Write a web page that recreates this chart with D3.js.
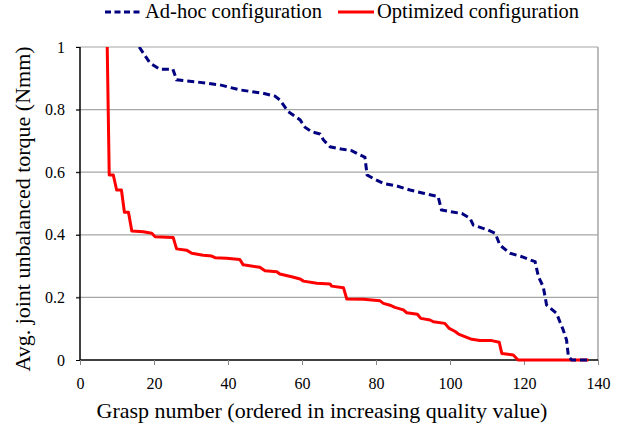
<!DOCTYPE html>
<html>
<head>
<meta charset="utf-8">
<script src="https://cdn.jsdelivr.net/npm/d3@7"></script>
<style>
body{margin:0;background:#fff;}
text{font-family:"Liberation Serif","Times New Roman",serif;fill:#000;}
</style>
</head>
<body>
<div id="chart"></div>
<script>
// grasp number / torque pairs
let adhocX=[16,18.9,21.6,25.1,26.1,32.4,37.8,43.2,49.5,52.7,54,56.3,59.5,60.8,62.6,64.9,65.8,67.6,71.1,73.4,75.7,77,77.6,79.3,82,85.6,89.2,92.8,96.8,97.7,100,103.2,105.4,106.3,109.9,112.2,113.5,116.2,119.4,123,123.9,125.2,126.1,128.8,129.7,130.6,131.5,132,132.9,137.4];
let adhocY=[1.0,0.949,0.929,0.929,0.895,0.887,0.879,0.863,0.852,0.843,0.831,0.793,0.767,0.744,0.729,0.722,0.703,0.681,0.673,0.669,0.655,0.648,0.591,0.58,0.564,0.556,0.543,0.533,0.522,0.479,0.474,0.468,0.453,0.431,0.417,0.405,0.367,0.341,0.33,0.314,0.266,0.234,0.176,0.149,0.122,0.096,0.064,0.011,0,0];
let optX=[7,7.9,9,9.9,11.2,12,13.1,14,17.1,19.4,20.3,25.2,26.1,28.8,30.2,33.3,35.6,36.5,39.6,43.2,44.1,48.6,50,53.2,54,57.2,59.5,60.4,64,67.6,68,71.2,72.1,76.6,81.1,82,83.8,85.1,87.4,88.3,91.2,92.1,94.6,95.5,98.6,99.8,101.4,102.3,104,105.9,108.1,111.3,113.3,114,117.1,118.4,137.4];
let optY=[1.27,0.591,0.591,0.543,0.543,0.472,0.472,0.412,0.41,0.405,0.394,0.391,0.355,0.351,0.341,0.335,0.332,0.327,0.325,0.321,0.304,0.296,0.285,0.282,0.275,0.266,0.259,0.252,0.245,0.243,0.236,0.231,0.195,0.194,0.189,0.181,0.175,0.168,0.16,0.151,0.146,0.133,0.128,0.122,0.117,0.101,0.091,0.083,0.075,0.066,0.062,0.062,0.057,0.021,0.016,0,0];
let xTicks=[0,20,40,60,80,100,120,140];
let yTicks=[0,0.2,0.4,0.6,0.8,1];
let seriesNames=["Ad-hoc configuration","Optimized configuration"];

let width=629, height=430;
let pLeft=80, pRight=598, pTop=47, pBottom=360;

let svg=d3.select("#chart").append("svg")
  .attr("width",width).attr("height",height);

let x=d3.scaleLinear().domain([0,140]).range([pLeft,pRight]);
let y=d3.scaleLinear().domain([0,1]).range([pBottom,pTop]);

// gridlines
svg.append("g").selectAll("line").data(yTicks.slice(1)).enter().append("line")
  .attr("x1",pLeft-4).attr("x2",pRight)
  .attr("y1",d=>y(d)).attr("y2",d=>y(d))
  .attr("stroke","#a6a6a6").attr("stroke-width",1.2);
svg.append("line").attr("x1",pRight).attr("x2",pRight).attr("y1",pTop).attr("y2",pBottom)
  .attr("stroke","#a6a6a6").attr("stroke-width",1.5);

// axes
let yAxis=d3.axisLeft(y).tickValues(yTicks).tickSize(4).tickFormat(d=>d===0||d===1?d:d3.format(".1f")(d));
let xAxis=d3.axisBottom(x).tickValues(xTicks).tickSize(5).tickFormat(d3.format("d"));

let gy=svg.append("g").attr("transform","translate("+pLeft+",0)").call(yAxis);
let gx=svg.append("g").attr("transform","translate(0,"+pBottom+")").call(xAxis);
gy.select(".domain").attr("stroke","#000").attr("stroke-width",1.5).attr("d","M0,"+pTop+"V"+pBottom);
gx.select(".domain").attr("stroke","#000").attr("stroke-width",1.5).attr("d","M"+pLeft+",0H"+pRight);
gy.selectAll(".tick line").attr("stroke","#000");
gx.selectAll(".tick line").attr("stroke","#888");
gy.selectAll("text").attr("font-size",16).attr("x",-15);
gx.selectAll("text").attr("font-size",16).attr("y",18);

// clip
svg.append("clipPath").attr("id","plot").append("rect")
  .attr("x",pLeft).attr("y",pTop).attr("width",pRight-pLeft+4).attr("height",pBottom-pTop+4);

let line=d3.line().x(d=>x(d[0])).y(d=>y(d[1]));
let adhoc=adhocX.map((v,i)=>[v,adhocY[i]]);
let opt=optX.map((v,i)=>[v,optY[i]]);

let g=svg.append("g").attr("clip-path","url(#plot)");
g.append("path").datum(opt).attr("d",line)
  .attr("fill","none").attr("stroke","#ff0000").attr("stroke-width",3).attr("stroke-linejoin","round");
g.append("path").datum(adhoc).attr("d",line)
  .attr("fill","none").attr("stroke","#000080").attr("stroke-width",3).attr("stroke-dasharray","7,4");

// titles
svg.append("text").text("Grasp number (ordered in increasing quality value)")
  .attr("x",322).attr("y",418).attr("text-anchor","middle").attr("font-size",22);
svg.append("text").text("Avg. joint unbalanced torque (Nmm)")
  .attr("transform","translate(30,209) rotate(-90)").attr("text-anchor","middle").attr("font-size",22);

// legend
let leg=svg.append("g");
leg.append("line").attr("x1",105).attr("x2",142).attr("y1",12).attr("y2",12)
  .attr("stroke","#000080").attr("stroke-width",3).attr("stroke-dasharray","6,3.5");
leg.append("text").text(seriesNames[0]).attr("x",145).attr("y",18).attr("font-size",20.5);
leg.append("line").attr("x1",338).attr("x2",374).attr("y1",12).attr("y2",12)
  .attr("stroke","#ff0000").attr("stroke-width",3);
leg.append("text").text(seriesNames[1]).attr("x",377).attr("y",18).attr("font-size",20.5);
</script>
</body>
</html>
